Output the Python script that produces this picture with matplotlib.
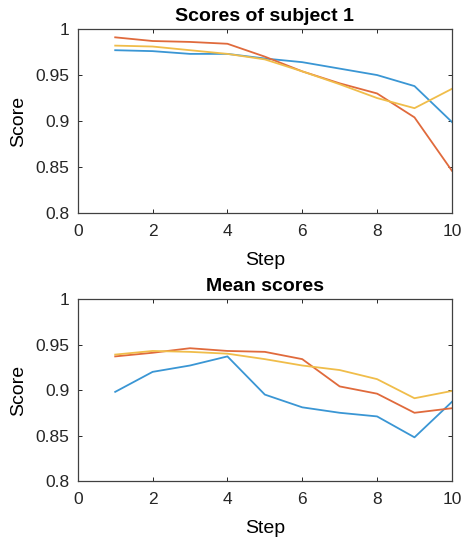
import matplotlib
matplotlib.use("Agg")
from matplotlib import pyplot as plt

# Data
steps = list(range(1, 11))

subject_blue = [0.977, 0.976, 0.973, 0.973, 0.968, 0.964, 0.957, 0.950, 0.938, 0.899]
subject_orange = [0.991, 0.987, 0.986, 0.984, 0.970, 0.954, 0.941, 0.930, 0.904, 0.846]
subject_yellow = [0.982, 0.981, 0.977, 0.973, 0.967, 0.954, 0.940, 0.925, 0.914, 0.935]

mean_blue = [0.898, 0.920, 0.927, 0.937, 0.895, 0.881, 0.875, 0.871, 0.848, 0.887]
mean_orange = [0.937, 0.941, 0.946, 0.943, 0.942, 0.934, 0.904, 0.896, 0.875, 0.880]
mean_yellow = [0.939, 0.943, 0.942, 0.940, 0.934, 0.927, 0.922, 0.912, 0.891, 0.899]

titles = ["Scores of subject 1", "Mean scores"]
yticks = [0.8, 0.85, 0.9, 0.95, 1]
ytick_labels = ["0.8", "0.85", "0.9", "0.95", "1"]
xticks = [0, 2, 4, 6, 8, 10]

# MATLAB default order, a touch lighter like the (blurred) reference
colors = ["#3A96D4", "#E06A3C", "#F0BD4A"]

plt.rcParams["font.family"] = ["Liberation Sans", "DejaVu Sans"]

fig = plt.figure(figsize=(4.63, 5.38), dpi=100)
ax_top = fig.add_axes([0.168, 0.604, 0.808, 0.342])
ax_bot = fig.add_axes([0.168, 0.106, 0.808, 0.338])

series = [
    (subject_blue, subject_orange, subject_yellow),
    (mean_blue, mean_orange, mean_yellow),
]

for ax, title, lines in zip([ax_top, ax_bot], titles, series):
    for values, color in zip(lines, colors):
        ax.plot(steps, values, color=color, linewidth=1.3)

    ax.set_xlim(0, 10)
    ax.set_ylim(0.8, 1)
    ax.set_xticks(xticks)
    ax.set_yticks(yticks)
    ax.set_yticklabels(ytick_labels)
    ax.tick_params(direction="in", length=3, width=0.7, labelsize=12.5,
                   top=True, right=True, colors="#262626")
    ax.tick_params(axis="x", pad=8)
    ax.tick_params(axis="y", pad=6)
    for spine in ax.spines.values():
        spine.set_linewidth(0.9)
        spine.set_color("#404040")

    ax.set_title(title, fontsize=14, fontweight="bold", pad=6)
    ax.set_xlabel("Step", fontsize=14, labelpad=9)
    ax.set_ylabel("Score", fontsize=14, labelpad=6)

fig.savefig("out.png", dpi=100)
